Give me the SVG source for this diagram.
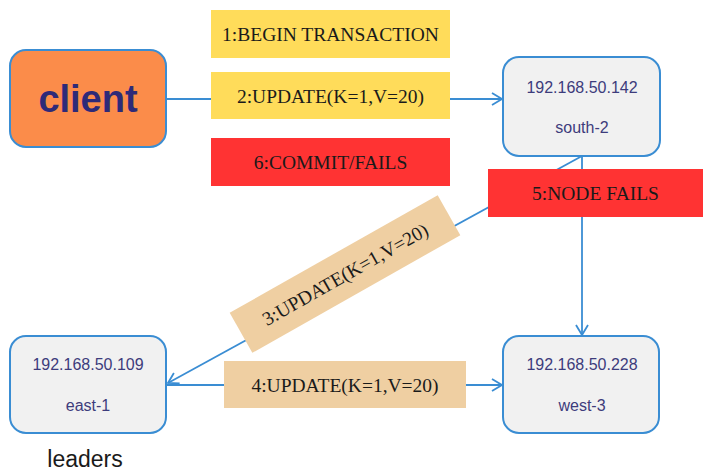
<svg xmlns="http://www.w3.org/2000/svg" width="713" height="474" viewBox="0 0 713 474">
<style>
.node{fill:#F1F1F1;stroke:#3A8DD3;stroke-width:2}
.ip{font-family:"Liberation Sans",Arial,sans-serif;font-size:16px;fill:#3D3C7C;text-anchor:middle}
.lbl{font-family:"Liberation Serif","Times New Roman",serif;font-size:19.5px;fill:#1a1a1a;text-anchor:middle}
.conn{stroke:#3A8DD3;stroke-width:1.8;fill:none}
</style>
<defs>
<marker id="arr" markerWidth="14" markerHeight="14" refX="11" refY="7" orient="auto" markerUnits="userSpaceOnUse">
<path d="M1,1 L11,7 L1,13" fill="none" stroke="#3A8DD3" stroke-width="1.8"/>
</marker>
</defs>
<g id="connectors">
<line class="conn" x1="166" y1="99" x2="502" y2="99" marker-end="url(#arr)"/>
<line class="conn" x1="582" y1="156" x2="582" y2="335" marker-end="url(#arr)"/>
<line class="conn" x1="582" y1="156" x2="168" y2="383" marker-end="url(#arr)"/>
<line class="conn" x1="166" y1="385" x2="502" y2="385" marker-end="url(#arr)"/>
</g>
<g id="client">
<rect x="10" y="50" width="156" height="97" rx="16" fill="#FB8C4A" stroke="#3A8DD3" stroke-width="2"/>
<text x="88" y="112" font-family="'Liberation Sans',Arial,sans-serif" font-size="38" font-weight="bold" fill="#2E2A78" text-anchor="middle">client</text>
</g>
<g id="south-2">
<rect class="node" x="503" y="57" width="157" height="99" rx="16"/>
<text class="ip" x="582" y="93">192.168.50.142</text>
<text class="ip" x="582" y="133">south-2</text>
</g>
<g id="east-1">
<rect class="node" x="10" y="336" width="156" height="97" rx="16"/>
<text class="ip" x="88" y="370">192.168.50.109</text>
<text class="ip" x="88" y="411">east-1</text>
</g>
<g id="west-3">
<rect class="node" x="503" y="336" width="156" height="97" rx="16"/>
<text class="ip" x="582" y="370">192.168.50.228</text>
<text class="ip" x="582" y="411">west-3</text>
</g>
<g id="msg1">
<rect x="211" y="10" width="239" height="48" fill="#FFDC5A"/>
<text class="lbl" x="330.5" y="41">1:BEGIN TRANSACTION</text>
</g>
<g id="msg2">
<rect x="211" y="72" width="239" height="47" fill="#FFDC5A"/>
<text class="lbl" x="330.5" y="103">2:UPDATE(K=1,V=20)</text>
</g>
<g id="msg6">
<rect x="211" y="138" width="239" height="48" fill="#FF3333"/>
<text class="lbl" x="330.5" y="169">6:COMMIT/FAILS</text>
</g>
<g id="msg5">
<rect x="488" y="169" width="215" height="48" fill="#FF3333"/>
<text class="lbl" x="595.5" y="200">5:NODE FAILS</text>
</g>
<g id="msg3" transform="translate(345,274) rotate(-29.5)">
<rect x="-119.5" y="-23" width="239" height="46" fill="#EFCFA2"/>
<text class="lbl" x="0" y="7">3:UPDATE(K=1,V=20)</text>
</g>
<g id="msg4">
<rect x="224" y="361" width="242" height="47" fill="#EFCFA2"/>
<text class="lbl" x="345" y="392">4:UPDATE(K=1,V=20)</text>
</g>
<text x="85" y="467" font-family="'Liberation Sans',Arial,sans-serif" font-size="23" fill="#1a1a1a" text-anchor="middle">leaders</text>
</svg>
